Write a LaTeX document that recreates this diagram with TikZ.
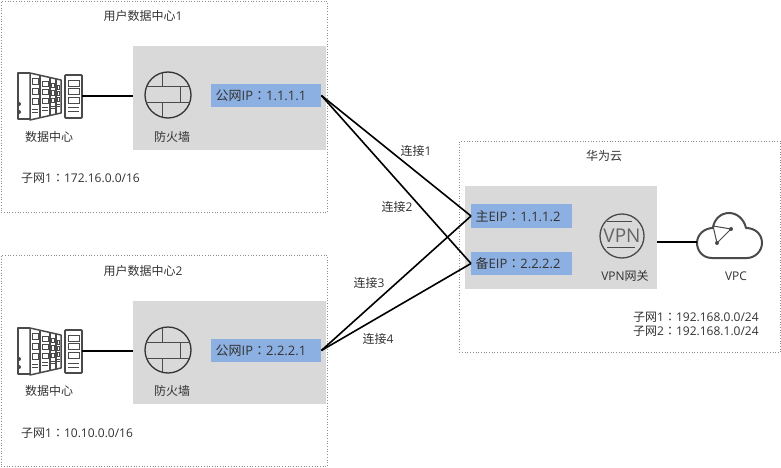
\documentclass[tikz,border=0pt]{standalone}
\usepackage{fontspec}
\setmainfont{Open Sans}
\newfontfamily\cjkfont{Noto Sans CJK SC}
\newfontfamily\colonfont{Noto Sans CJK TC}
\newcommand{\zh}[1]{{\cjkfont #1}}
\newcommand{\cn}{{\colonfont ：}}
\usetikzlibrary{calc}
\definecolor{iconfg}{HTML}{4A4A4A}
\definecolor{txtfg}{HTML}{333333}
\definecolor{zonebg}{HTML}{D9D9D9}
\definecolor{ipbg}{HTML}{8DB0E2}
\definecolor{borderfg}{HTML}{8C8C8C}
\tikzset{
  zonebox/.style={draw=borderfg, dotted, line width=0.7pt, minimum width=#1, anchor=north west, inner sep=0pt},
  graybox/.style={fill=zonebg, anchor=north west, inner sep=0pt},
  ipbox/.style={fill=ipbg, anchor=west, inner ysep=0pt, inner xsep=4.5pt, text width=#1, align=left, text=txtfg, font=\fontsize{13}{15}\selectfont},
  lbl/.style={text=txtfg, inner sep=0pt, font=\fontsize{12}{14}\selectfont},
  iconbox/.style={inner sep=0pt},
  link/.style={black, line width=1.6pt},
  fwicon/.pic={
    \draw[iconfg, line width=1pt] (-21.6,-8) -- (21.6,-8) (-21.6,8) -- (21.6,8)
      (-6,-22.2) -- (-6,-8) (12,-8) -- (12,8) (-6,8) -- (-6,22.2);
  },
  dcicon/.pic={
    % origin is the top left corner of the icon
    \draw[iconfg, line width=1.5pt, line join=round] (12,1) -- (0,1) -- (0,47) -- (12,47);
    \fill[iconfg] (1,32) circle (2) (1,40) circle (2);
    \draw[iconfg, line width=1.5pt, line join=round] (12,1) -- (43,8) -- (43,41) -- (12,48) -- cycle;
    \draw[iconfg, line width=1.2pt] (22,3.3) -- (22,45.7) (32,5.5) -- (32,43.5) (38,6.9) -- (38,42.1);
    \foreach \cx/\cw/\cs in {17/6/1, 27/6/.86, 35/3.6/.74, 40.5/2.6/.62} {
      \foreach \cy in {-15,-5,5}
        \draw[iconfg, line width=0.7pt] (\cx-\cw/2,24.5+\cy*\cs-3*\cs) rectangle (\cx+\cw/2,24.5+\cy*\cs+3*\cs);
      \draw[iconfg, line width=0.7pt] (\cx-\cw/2,24.5+13*\cs) -- (\cx+\cw/2,24.5+13*\cs)
        (\cx-\cw/2,24.5+16*\cs) -- (\cx+\cw/2,24.5+16*\cs);
    }
    \draw[iconfg, line width=1.8pt, rounded corners=1pt] (47,3) rectangle (64,46);
    \foreach \cy in {8,16.5,25}
      \draw[iconfg, line width=0.8pt] (50,\cy) rectangle (61,\cy+6);
    \draw[iconfg, line width=1pt] (50,36) -- (61,36) (50,40) -- (61,40);
  }
}
\begin{document}
\begin{tikzpicture}[x=1pt,y=-1pt]
  \useasboundingbox (0,0) rectangle (781,468);
  \fill[white] (0,0) rectangle (781,468);
  % user data centre 1
  \node[zonebox=326pt, minimum height=211pt] (zonea) at (1,1) {};
  \node[graybox, minimum width=193pt, minimum height=104pt] (graya) at (133,46) {};
  \node[ipbox=101pt, minimum height=23pt] (ipa) at (211,95.5) {\zh{公网}IP\cn 1.1.1.1};
  \node[lbl] (titlea) at (143,16) {\zh{用户数据中心}1};
  \node[iconbox, minimum width=64pt, minimum height=48pt] (dca) at (50,96) {};
  \pic at (18,72) {dcicon};
  \node[draw=black!80, circle, line width=1.3pt, minimum size=46pt, inner sep=0pt] (fwa) at (168,95) {};
  \pic at (fwa) {fwicon};
  \node[lbl] (dclbla) at (49,137) {\zh{数据中心}};
  \node[lbl] (fwlbla) at (172,137) {\zh{防火墙}};
  \node[lbl, anchor=west] (neta) at (21,178) {\zh{子网}1\cn 172.16.0.0/16};
  \draw[link] (dca.east) -- (dca.east -| graya.west);
  % user data centre 2
  \node[zonebox=326pt, minimum height=211pt] (zoneb) at (1,255) {};
  \node[graybox, minimum width=193pt, minimum height=103pt] (grayb) at (133,301) {};
  \node[ipbox=101pt, minimum height=23pt] (ipb) at (211,350.5) {\zh{公网}IP\cn 2.2.2.1};
  \node[lbl] (titleb) at (143,271) {\zh{用户数据中心}2};
  \node[iconbox, minimum width=64pt, minimum height=48pt] (dcb) at (50,351) {};
  \pic at (18,327) {dcicon};
  \node[draw=black!80, circle, line width=1.3pt, minimum size=46pt, inner sep=0pt] (fwb) at (168,350) {};
  \pic at (fwb) {fwicon};
  \node[lbl] (dclblb) at (49,391) {\zh{数据中心}};
  \node[lbl] (fwlblb) at (172,391) {\zh{防火墙}};
  \node[lbl, anchor=west] (netb) at (21,433) {\zh{子网}1\cn 10.10.0.0/16};
  \draw[link] (dcb.east) -- (dcb.east -| grayb.west);
  % huawei cloud
  \node[zonebox=321pt, minimum height=211pt] (zonec) at (459,141) {};
  \node[graybox, minimum width=192pt, minimum height=103pt] (grayc) at (465,186) {};
  \node[ipbox=92pt, minimum height=24pt] (eipa) at (471,216) {\zh{主}EIP\cn 1.1.1.2};
  \node[ipbox=92pt, minimum height=23pt] (eipb) at (471,263.5) {\zh{备}EIP\cn 2.2.2.2};
  \node[lbl] (titlec) at (604,156) {\zh{华为云}};
  \node[draw=iconfg, circle, line width=1.3pt, minimum size=44pt, inner sep=0pt, text=iconfg!85, font=\fontsize{19}{19}\selectfont] (vpn) at (622,236) {VPN};
  \draw[iconfg, line width=.8pt] ($(vpn)+(-15,-15)$) -- ($(vpn)+(10,-15)$) ($(vpn)+(-15,11)$) -- ($(vpn)+(13,11)$);
  \node[lbl] (vpnlbl) at (625,276) {VPN\zh{网关}};
  \node[lbl] (vpclbl) at (736,276) {VPC};
  \node[lbl, anchor=west] (netc) at (633,317) {\zh{子网}1\cn 192.168.0.0/24};
  \node[lbl, anchor=west] (netd) at (633,331) {\zh{子网}2\cn 192.168.1.0/24};
  \coordinate (cloud) at (697,242);
  \draw[iconfg, line width=2pt, line join=round, fill=white] (712,258) .. controls (702,258) and (697,250) .. (697,243)
    .. controls (697,234) and (705,228) .. (713,228) .. controls (714,219) and (721,213) .. (729,213)
    .. controls (737,213) and (744,219) .. (746,228) .. controls (755,228) and (762,234) .. (762,243)
    .. controls (762,251) and (755,258) .. (747,258) -- cycle;
  \draw[iconfg, line width=1pt] (713,226) -- (731,229) -- (717,243) -- cycle;
  \fill[iconfg] (731,229) circle (2) (717,243) circle (2);
  \draw[link] (grayc.east |- cloud) -- (cloud);
  % links
  \draw[link] (ipa.east) -- (eipa.west);
  \draw[link] (ipa.east) -- (eipb.west);
  \draw[link] (ipb.east) -- (eipa.west);
  \draw[link] (ipb.east) -- (eipb.west);
  \node[lbl] (linka) at (416,151) {\zh{连接}1};
  \node[lbl] (linkb) at (397,207) {\zh{连接}2};
  \node[lbl] (linkc) at (369,283) {\zh{连接}3};
  \node[lbl] (linkd) at (378,339) {\zh{连接}4};
\end{tikzpicture}
\end{document}
